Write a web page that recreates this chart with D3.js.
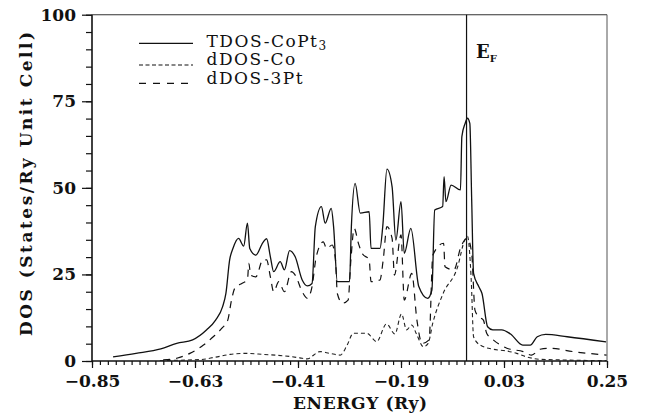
<!DOCTYPE html>
<meta charset="utf-8">
<style>
    body{ margin:0; background:#fff; }
    text{ font-family: "DejaVu Serif", serif; fill:#111; }
</style>
<script src="https://d3js.org/d3.v7.min.js"></script>

<div id="chart"></div>

<script>
// values (energy in Ry, DOS in states/Ry/cell)
var tdosE = [-0.805,-0.756,-0.703,-0.669,-0.635,-0.605,-0.586,-0.571,-0.564,-0.556,-0.549,-0.537,-0.526,-0.518,-0.513,-0.500,-0.485,-0.477,-0.469,-0.462,-0.448,-0.439,-0.428,-0.416,-0.401,-0.390,-0.380,-0.373,-0.360,-0.352,-0.339,-0.334,-0.326,-0.300,-0.296,-0.288,-0.277,-0.258,-0.254,-0.235,-0.229,-0.220,-0.209,-0.201,-0.190,-0.183,-0.169,-0.152,-0.133,-0.124,-0.118,-0.101,-0.098,-0.094,-0.083,-0.063,-0.060,-0.053,-0.048,-0.043,-0.039,-0.035,-0.024,-0.017,-0.005,0.006,0.025,0.044,0.070,0.086,0.101,0.119,0.165,0.248];
var tdosV = [1.2,2.2,3.5,5.1,6.1,9.0,11.8,15.7,19.5,29.2,32.5,35.4,33.2,39.8,32.5,30.6,34.2,35.3,30.1,25.8,28.7,26.3,31.9,30.1,23.4,21.7,22.4,38.8,44.6,39.8,44.1,38.8,22.9,22.9,38.8,51.3,42.7,43.1,32.5,32.5,38.8,55.4,50.3,34.9,46.0,31.1,38.3,21.5,18.1,20.5,43.6,44.6,53.2,46.0,50.8,49.4,64.8,68.6,70.1,68.6,46.5,25.3,21.5,19.5,9.9,9.0,9.0,7.8,4.6,4.6,7.0,7.7,7.0,5.5];

var coE = [-0.705,-0.619,-0.587,-0.555,-0.520,-0.484,-0.441,-0.427,-0.406,-0.391,-0.363,-0.342,-0.320,-0.305,-0.292,-0.263,-0.242,-0.221,-0.203,-0.189,-0.178,-0.167,-0.157,-0.142,-0.132,-0.122,-0.100,-0.069,-0.054,-0.048,-0.040,-0.035,-0.021,0.007,0.036,0.057,0.078,0.107,0.249];
var coV = [0.15,0.4,1.1,1.9,2.2,1.9,1.5,1.3,0.9,0.6,2.7,2.2,1.7,4.6,8.0,8.0,5.6,10.7,7.8,13.6,9.0,10.4,7.8,4.1,5.1,11.0,19.5,27.2,34.9,36.0,23.4,7.0,4.6,3.4,2.9,2.2,1.2,0.5,0.1];

var ptE = [-0.698,-0.669,-0.641,-0.612,-0.591,-0.573,-0.560,-0.552,-0.545,-0.530,-0.518,-0.515,-0.511,-0.500,-0.485,-0.477,-0.469,-0.462,-0.451,-0.439,-0.424,-0.416,-0.401,-0.390,-0.380,-0.371,-0.356,-0.349,-0.337,-0.330,-0.326,-0.315,-0.303,-0.297,-0.290,-0.281,-0.273,-0.258,-0.254,-0.235,-0.228,-0.220,-0.209,-0.204,-0.190,-0.183,-0.167,-0.156,-0.145,-0.130,-0.122,-0.099,-0.096,-0.077,-0.062,-0.048,-0.039,-0.032,-0.024,-0.014,-0.007,0.007,0.036,0.071,0.089,0.107,0.128,0.178,0.249];
var ptV = [0.3,0.8,2.2,4.6,7.0,9.4,11.8,17.6,21.0,22.4,23.4,28.2,24.8,24.3,29.2,29.2,24.3,20.0,22.9,20.0,25.8,24.8,20.0,18.1,21.5,30.1,34.4,32.5,33.5,29.2,19.5,16.7,17.6,29.2,38.3,34.0,31.1,29.2,22.9,23.4,29.2,38.8,35.4,24.8,36.4,17.6,25.3,11.8,5.1,6.1,30.6,34.0,27.2,26.3,33.0,35.4,31.1,14.7,12.8,11.8,8.0,6.1,3.7,2.7,1.7,3.4,3.7,2.7,1.7];

var fermi = -0.05;
var xTicks = [-0.85,-0.63,-0.41,-0.19,0.03,0.25];
var yTicks = [0,25,50,75,100];

var width = 645, height = 414;
var pLeft = 92, pRight = 607, pTop = 14.7, pBottom = 361;

var svg = d3.select("#chart").append("svg")
    .attr("width", width)
    .attr("height", height);

var x = d3.scaleLinear().domain([-0.85, 0.25]).range([pLeft, pRight]);
var y = d3.scaleLinear().domain([0, 100]).range([pBottom, pTop]);

// minor ticks: 13 per major step on x, every 5 on y
var xMinor = d3.range(0, 66).map(function(i){ return -0.85 + i*0.22/13; });
var yMinor = d3.range(0, 101, 5);

var fmt = d3.format(".2f");

svg.append("g")
    .attr("transform", "translate(0," + pBottom + ")")
    .call(d3.axisBottom(x).tickValues(xMinor).tickSize(4).tickFormat(""))
    .call(g => g.select(".domain").remove());

svg.append("g")
    .attr("transform", "translate(0," + pBottom + ")")
    .call(d3.axisBottom(x).tickValues(xTicks).tickSize(7).tickPadding(7).tickFormat(fmt))
    .call(g => g.select(".domain").remove())
    .selectAll("text")
    .style("font-family", "DejaVu Serif").style("font-size", "17px").style("font-weight", "bold");

svg.append("g")
    .attr("transform", "translate(" + pLeft + ",0)")
    .call(d3.axisLeft(y).tickValues(yMinor).tickSize(6).tickFormat(""))
    .call(g => g.select(".domain").remove());

svg.append("g")
    .attr("transform", "translate(" + pLeft + ",0)")
    .call(d3.axisLeft(y).tickValues(yTicks).tickSize(10).tickPadding(6))
    .call(g => g.select(".domain").remove())
    .selectAll("text")
    .style("font-family", "DejaVu Serif").style("font-size", "17px").style("font-weight", "bold");

svg.selectAll(".tick line").attr("stroke", "#111").attr("stroke-width", 1.2);

// frame
svg.append("line").attr("x1", pLeft).attr("x2", pRight).attr("y1", pBottom).attr("y2", pBottom)
    .attr("stroke", "#111").attr("stroke-width", 1.6);
svg.append("line").attr("x1", pLeft).attr("x2", pLeft).attr("y1", pTop).attr("y2", pBottom)
    .attr("stroke", "#111").attr("stroke-width", 1.6);
svg.append("line").attr("x1", pLeft).attr("x2", pRight).attr("y1", pTop).attr("y2", pTop)
    .attr("stroke", "#333").attr("stroke-width", 1.1);
svg.append("line").attr("x1", pRight).attr("x2", pRight).attr("y1", pTop).attr("y2", pBottom)
    .attr("stroke", "#555").attr("stroke-width", 1);

// Fermi level
svg.append("line").attr("x1", x(fermi)).attr("x2", x(fermi)).attr("y1", pTop).attr("y2", pBottom)
    .attr("stroke", "#111").attr("stroke-width", 1.2);

var line = d3.line()
    .x(function(d){ return x(d[0]); })
    .y(function(d){ return y(d[1]); })
    .curve(d3.curveMonotoneX);

svg.append("path").datum(d3.zip(coE, coV))
    .attr("d", line).attr("fill", "none")
    .attr("stroke", "#222").attr("stroke-width", 1.1).attr("stroke-dasharray", "4,3");

svg.append("path").datum(d3.zip(ptE, ptV))
    .attr("d", line).attr("fill", "none")
    .attr("stroke", "#111").attr("stroke-width", 1.2).attr("stroke-dasharray", "7,6");

svg.append("path").datum(d3.zip(tdosE, tdosV))
    .attr("d", line).attr("fill", "none")
    .attr("stroke", "#111").attr("stroke-width", 1.3);

// legend
var legend = [
    {label: "TDOS-CoPt", sub: "3", dash: null, ly: 43.3, ty: 47},
    {label: "dDOS-Co", sub: "", dash: "4,2.5", ly: 65, ty: 65},
    {label: "dDOS-3Pt", sub: "", dash: "7,7", ly: 83.3, ty: 83.5}
];
legend.forEach(function(l){
    svg.append("line").attr("x1", 139).attr("x2", 193).attr("y1", l.ly).attr("y2", l.ly)
        .attr("stroke", "#111").attr("stroke-width", 1.2)
        .attr("stroke-dasharray", l.dash);
    var t = svg.append("text").attr("x", 206.5).attr("y", l.ty)
        .style("font-size", "17px").style("letter-spacing", "1.5px")
        .text(l.label);
    if (l.sub) t.append("tspan").attr("dy", 3).style("font-size", "12px").text(l.sub);
});

// E_F label
var ef = svg.append("text").attr("x", 476).attr("y", 58)
    .style("font-size", "18px").style("font-weight", "bold").text("E");
ef.append("tspan").attr("dy", 4).style("font-size", "10px").text("F");

// axis titles
svg.append("text").attr("x", 360).attr("y", 409)
    .attr("text-anchor", "middle")
    .attr("textLength", 134).attr("lengthAdjust", "spacing")
    .style("font-size", "17px").style("font-weight", "bold")
    .text("ENERGY (Ry)");

svg.append("text")
    .attr("transform", "translate(32," + 184 + ") rotate(-90)")
    .attr("text-anchor", "middle")
    .attr("textLength", 304).attr("lengthAdjust", "spacing")
    .style("font-size", "17px").style("font-weight", "bold")
    .text("DOS (States/Ry Unit Cell)");
</script>
